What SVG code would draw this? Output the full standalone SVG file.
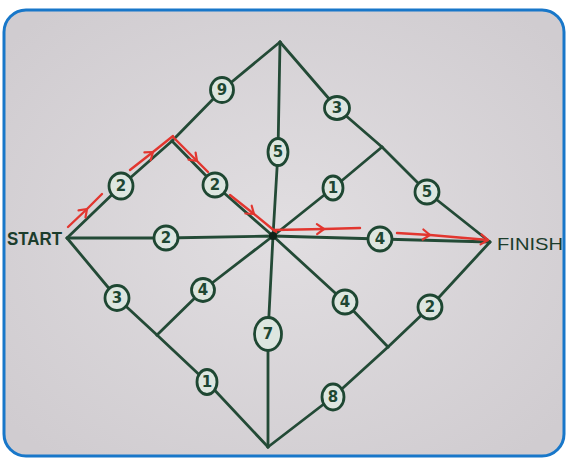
<svg xmlns="http://www.w3.org/2000/svg" width="567" height="458" viewBox="0 0 567 458">
  <defs>
    <radialGradient id="paper" cx="50%" cy="50%" r="65%">
      <stop offset="0" stop-color="#e1dee1"/>
      <stop offset="1" stop-color="#d0ccd0"/>
    </radialGradient>
    <marker id="chev" viewBox="-10 -8 14 16" markerWidth="14" markerHeight="16" refX="0" refY="0" orient="auto" markerUnits="userSpaceOnUse">
      <path d="M-7,-5 L0,0 L-7,5" fill="none" stroke="#e2362f" stroke-width="2.2" stroke-linecap="round" stroke-linejoin="round"/>
    </marker>
    <style>
      .edge { fill: none; stroke: #234a36; stroke-width: 2.8; stroke-linecap: round; stroke-linejoin: round; }
      .path { fill: none; stroke: #e2362f; stroke-width: 2.4; stroke-linecap: round; stroke-linejoin: round; }
      .wc { fill: #dde6e0; stroke: #1e4732; stroke-width: 2.8; }
      .wt { font-family: "DejaVu Sans", "Liberation Sans", sans-serif; font-size: 15px; font-weight: bold; fill: #1e4732; text-anchor: middle; dominant-baseline: central; }
      .lbl { font-family: "Liberation Sans", "DejaVu Sans", sans-serif; fill: #1c3d2c; }
      .bold { font-weight: bold; }
    </style>
  </defs>

  <rect x="0" y="0" width="567" height="458" fill="#ffffff"/>
  <rect x="4" y="10" width="560" height="446" rx="22" ry="22" fill="url(#paper)" stroke="#1877c9" stroke-width="3"/>

  <g id="connectors">
    <!-- outer diamond -->
    <polyline class="edge" points="67,238 121,186 172,141 222,90 280,42"/>
    <polyline class="edge" points="280,42 337,108 382,147 427,192 490,242"/>
    <polyline class="edge" points="67,238 117,298 157,335 207,382 268,447"/>
    <polyline class="edge" points="490,242 430,307 388,347 333,397 268,447"/>
    <!-- axes -->
    <polyline class="edge" points="280,42 278,152 273,236 268,334 268,447"/>
    <polyline class="edge" points="67,238 166,238 273,236 380,239 490,242"/>
    <!-- spokes -->
    <polyline class="edge" points="172,141 215,185 273,236"/>
    <polyline class="edge" points="273,236 333,188 382,147"/>
    <polyline class="edge" points="273,236 203,290 157,335"/>
    <polyline class="edge" points="273,236 345,302 388,347"/>
  </g>

  <g id="shortest-path">
    <path class="path" d="M68,227 L87,209 L102,194" marker-mid="url(#chev)"/>
    <path class="path" d="M130,170 L153,152 L173,136" marker-mid="url(#chev)"/>
    <path class="path" d="M173,137 L197,161 L208,172" marker-mid="url(#chev)"/>
    <path class="path" d="M230,195 L254,214 L276,232" marker-mid="url(#chev)"/>
    <path class="path" d="M274,230 L324,229 L360,228" marker-mid="url(#chev)"/>
    <path class="path" d="M397,233 L430,235 L488,240" marker-mid="url(#chev)" marker-end="url(#chev)"/>
  </g>

  <g id="start">
    <text class="lbl bold" x="7" y="245" font-size="18" textLength="55" lengthAdjust="spacingAndGlyphs">START</text>
  </g>
  <g id="finish">
    <text class="lbl" x="497" y="250" font-size="17" textLength="66" lengthAdjust="spacingAndGlyphs">FINISH</text>
  </g>
  <g id="center">
    <circle cx="273" cy="236" r="4" fill="#0f2419"/>
  </g>
  <g id="top"><circle cx="280" cy="42" r="1.5" fill="#234a36"/></g>
  <g id="bottom"><circle cx="268" cy="447" r="1.5" fill="#234a36"/></g>
  <g id="junction-tl"><circle cx="172" cy="141" r="1.5" fill="#234a36"/></g>
  <g id="junction-tr"><circle cx="382" cy="147" r="1.5" fill="#234a36"/></g>
  <g id="junction-bl"><circle cx="157" cy="335" r="1.5" fill="#234a36"/></g>
  <g id="junction-br"><circle cx="388" cy="347" r="1.5" fill="#234a36"/></g>

  <g id="weights">
    <g id="w-s-tl"><ellipse class="wc" cx="121" cy="186" rx="12" ry="13"/><text class="wt" x="121" y="186">2</text></g>
    <g id="w-tl-t"><ellipse class="wc" cx="222" cy="90" rx="11.5" ry="12.5"/><text class="wt" x="222" y="90">9</text></g>
    <g id="w-t-tr"><ellipse class="wc" cx="337" cy="108" rx="12.5" ry="11.5"/><text class="wt" x="337" y="108">3</text></g>
    <g id="w-tr-f"><ellipse class="wc" cx="427" cy="192" rx="12" ry="12"/><text class="wt" x="427" y="192">5</text></g>
    <g id="w-tl-c"><ellipse class="wc" cx="215" cy="185" rx="12" ry="12"/><text class="wt" x="215" y="185">2</text></g>
    <g id="w-c-tr"><ellipse class="wc" cx="333" cy="188" rx="10" ry="12"/><text class="wt" x="333" y="188">1</text></g>
    <g id="w-t-c"><ellipse class="wc" cx="278" cy="152" rx="10" ry="13.5"/><text class="wt" x="278" y="152" font-size="17">5</text></g>
    <g id="w-s-c"><ellipse class="wc" cx="166" cy="238" rx="12" ry="12"/><text class="wt" x="166" y="238">2</text></g>
    <g id="w-c-f"><ellipse class="wc" cx="380" cy="239" rx="12" ry="12"/><text class="wt" x="380" y="239">4</text></g>
    <g id="w-s-bl"><ellipse class="wc" cx="117" cy="298" rx="12" ry="12.5"/><text class="wt" x="117" y="298">3</text></g>
    <g id="w-c-bl"><ellipse class="wc" cx="203" cy="290" rx="11.5" ry="11.5"/><text class="wt" x="203" y="290">4</text></g>
    <g id="w-bl-b"><ellipse class="wc" cx="207" cy="382" rx="10" ry="12.5"/><text class="wt" x="207" y="382">1</text></g>
    <g id="w-c-b"><ellipse class="wc" cx="268" cy="334" rx="13.5" ry="16.5"/><text class="wt" x="268" y="334" font-size="19">7</text></g>
    <g id="w-c-br"><ellipse class="wc" cx="345" cy="302" rx="12" ry="12"/><text class="wt" x="345" y="302">4</text></g>
    <g id="w-f-br"><ellipse class="wc" cx="430" cy="307" rx="12" ry="12"/><text class="wt" x="430" y="307">2</text></g>
    <g id="w-br-b"><ellipse class="wc" cx="333" cy="397" rx="11" ry="13"/><text class="wt" x="333" y="397">8</text></g>
  </g>
</svg>
